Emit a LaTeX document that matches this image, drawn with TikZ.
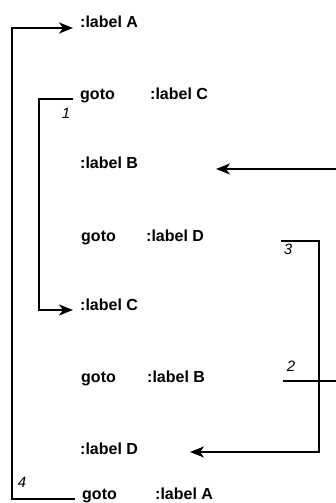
\documentclass[tikz,border=0pt]{standalone}
\usepackage{fontspec}
\setmainfont{Liberation Sans}
\usepackage{xcolor}
\usepackage{tikz}
\usetikzlibrary{arrows.meta}
\definecolor{ink}{HTML}{000000}
\tikzset{
  stmt/.style={anchor=base west, inner xsep=7pt, inner ysep=0pt, text=ink, font=\bfseries\fontsize{16}{18}\selectfont},
  target/.style={anchor=base west, inner sep=0pt, text=ink, font=\bfseries\fontsize{16}{18}\selectfont},
  jump/.style={line width=2pt, draw=ink},
  jumpto/.style={jump, -{Stealth[length=14pt, width=11pt, inset=4pt]}},
  num/.style={inner sep=0pt, text=ink, font=\itshape\fontsize{15}{17}\selectfont}
}

\begin{document}
\begin{tikzpicture}[x=1pt, y=-1pt]
  \useasboundingbox (0,0) rectangle (335,503);
  % statements, top to bottom
  \node[stmt] (lblA) at (73,28) {:label A};
  \node[stmt] (goC) at (73,99) {goto};
  \node[target] (tgtC) at (150,99) {:label C};
  \node[stmt] (lblB) at (73,168) {:label B};
  \node[stmt] (goD) at (74,241) {goto};
  \node[target] (tgtD) at (146,241) {:label D};
  \node[stmt] (lblC) at (73,310) {:label C};
  \node[stmt] (goB) at (74,382) {goto};
  \node[target] (tgtB) at (147,382) {:label B};
  \node[stmt] (lblD) at (73,454) {:label D};
  \node[stmt] (goA) at (75,499) {goto};
  \node[target] (tgtA) at (155,499) {:label A};
  % free ends of the jumps on the right
  \coordinate (outD) at (281,241);
  \coordinate (inD) at (190,452);
  \coordinate (outB) at (283,381);
  \coordinate (inB) at (216,169);
  % jumps
  \draw[jumpto] (goC.base west) -- ++(-34,0) |- (lblC.base west);
  \draw[jumpto] (goA.base west) -- ++(-63,0) |- (lblA.base west);
  \draw[jumpto] (outD) -- ++(38,0) |- (inD);
  \draw[jumpto] (outB) -- ++(70,0) |- (inB);
  \node[num] (n1) at (66,113) {1};
  \node[num] (n2) at (291,366) {2};
  \node[num] (n3) at (288,249) {3};
  \node[num] (n4) at (22,482) {4};
\end{tikzpicture}
\end{document}
